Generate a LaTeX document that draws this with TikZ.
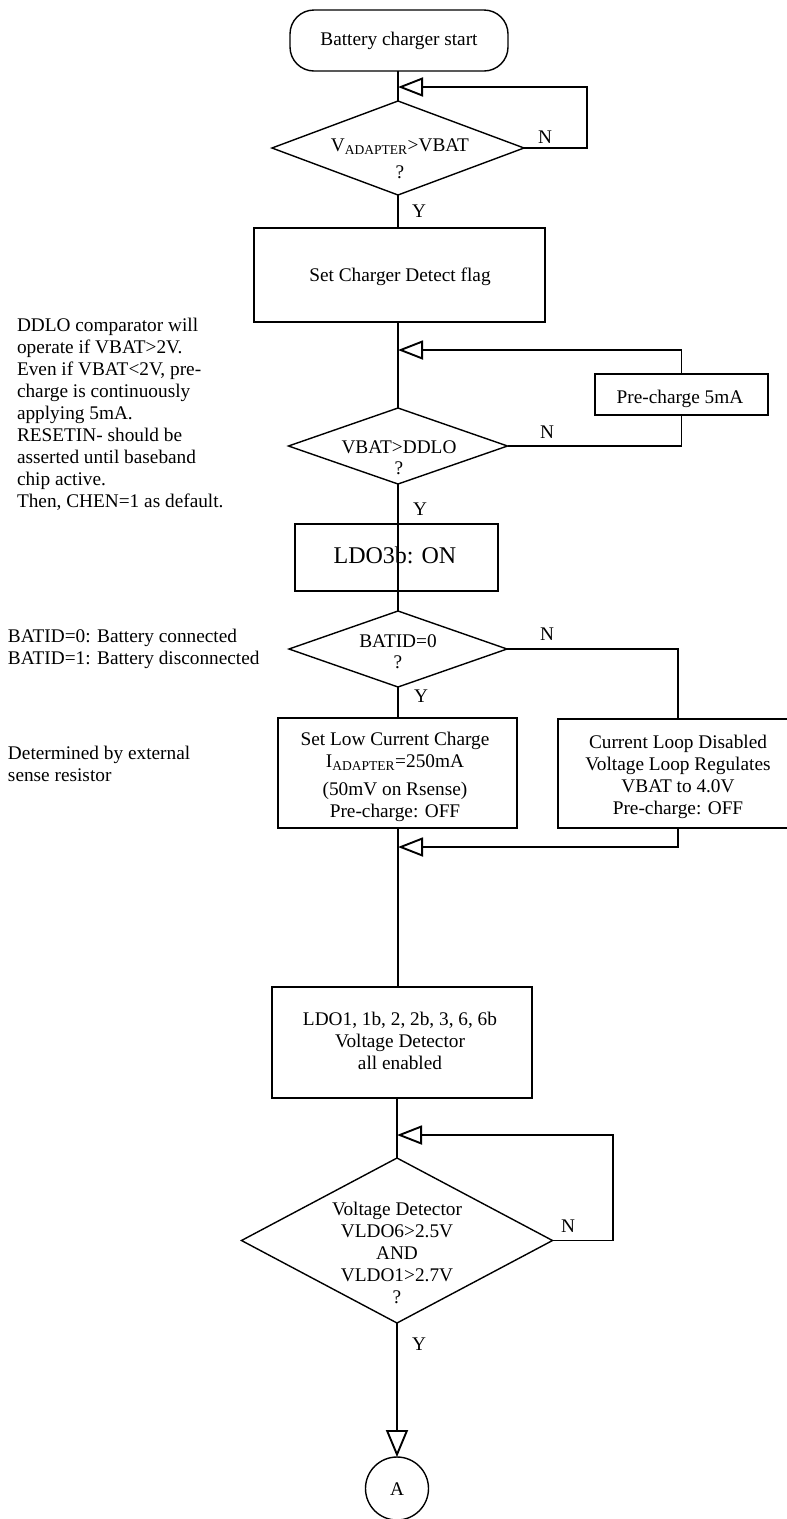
\documentclass[tikz,border=0pt]{standalone}
\usepackage{fontspec}
\setmainfont{Liberation Serif}
\usetikzlibrary{shapes.geometric,arrows.meta}
\newcommand{\mlc}[1]{\begin{tabular}[t]{@{}c@{}}#1\end{tabular}}
\newcommand{\mll}[1]{\begin{tabular}[t]{@{}l@{}}#1\end{tabular}}
\begin{document}
\begin{tikzpicture}[x=1pt,y=-1pt,
  every node/.style={font=\fontsize{19.3}{22}\selectfont, inner sep=0pt, outer sep=0pt},
  ln/.style={line width=1.4pt},
  box/.style={draw, rectangle, line width=1.4pt},
  tbox/.style={draw, rectangle, line width=2.3pt},
  dia/.style={draw, diamond, line width=1.4pt},
  txt/.style={anchor=base},
  note/.style={anchor=base west},
  yn/.style={anchor=base},
  back/.style={ln, -{Triangle[open, length=25pt, width=19pt, line width=1.9pt]}},
  down/.style={ln, -{Triangle[open, length=27pt, width=22pt, line width=1.9pt]}},
]
\useasboundingbox (0,0) rectangle (787,1519);
\clip (0,0) rectangle (787,1519);

% shapes
\node[box, rounded corners=24pt, minimum width=218pt, minimum height=61pt] (start) at (399,40.5) {};
\node[dia, minimum width=252pt, minimum height=94pt] (d1) at (398,148) {};
\node[box, minimum width=291pt, minimum height=94pt] (setcd) at (399.5,275) {};
\node[box, minimum width=173pt, minimum height=41pt] (pre) at (681.5,394.5) {};
\node[dia, minimum width=219pt, minimum height=76pt] (d2) at (398,446) {};
\node[tbox, minimum width=203pt, minimum height=67pt] (ldo3) at (396.5,557.5) {};
\node[dia, minimum width=218pt, minimum height=76pt] (d3) at (398,649) {};
\node[box, minimum width=239pt, minimum height=110pt] (low) at (397.5,773) {};
\node[box, minimum width=240pt, minimum height=109pt] (rbox) at (678,773.5) {};
\node[tbox, minimum width=260pt, minimum height=111pt] (ldo1) at (402,1042.5) {};
\node[dia, minimum width=311pt, minimum height=165pt] (d4) at (397,1240.5) {};
\node[draw, circle, ln, minimum size=63pt] (A) at (397,1488.5) {};

% texts
\node[txt] (tstart) at (399,45) {Battery charger start};
\node[txt] (td1) at (400,151.5) {\mlc{V\textsubscript{ADAPTER}>VBAT\\[4.5pt] ?}};
\node[txt] (tsetcd) at (400,281) {Set Charger Detect flag};
\node[txt] (tpre) at (680,403) {Pre-charge 5mA};
\node[txt] (td2) at (399,453) {\mlc{VBAT>DDLO\\[-1pt] ?}};
\node[txt, font=\fontsize{24}{27}\selectfont] (tldo3) at (395,563) {LDO3b: ON};
\node[txt] (td3) at (398,647) {\mlc{BATID=0\\[-1pt] ?}};
\node[txt] (tlow) at (395,745) {\mlc{Set Low Current Charge\\I\textsubscript{ADAPTER}=250mA\\[6pt](50mV on Rsense)\\Pre-charge: OFF}};
\node[txt] (trbox) at (678,748) {\mlc{Current Loop Disabled\\Voltage Loop Regulates\\VBAT to 4.0V\\Pre-charge: OFF}};
\node[txt] (tldo1) at (400,1025) {\mlc{LDO1, 1b, 2, 2b, 3, 6, 6b\\Voltage Detector\\all enabled}};
\node[txt] (td4) at (397,1215) {\mlc{Voltage Detector\\VLDO6>2.5V\\AND\\VLDO1>2.7V\\?}};
\node[txt] (tA) at (397,1495) {A};

% notes
\node[note] (nddlo) at (17,331) {\mll{DDLO comparator will\\operate if VBAT>2V.\\Even if VBAT<2V, pre-\\charge is continuously\\applying 5mA.\\RESETIN- should be\\asserted until baseband\\chip active.\\Then, CHEN=1 as default.}};
\node[note] (nbatid) at (8,642) {\mll{BATID=0: Battery connected\\BATID=1: Battery disconnected}};
\node[note] (ndet) at (8,759) {\mll{Determined by external\\sense resistor}};

% Y / N labels
\node[yn] (y1) at (419,217) {Y};
\node[yn] (n1) at (545,143) {N};
\node[yn] (n2) at (547,438) {N};
\node[yn] (y2) at (420,515) {Y};
\node[yn] (n3) at (547,640) {N};
\node[yn] (y3) at (421,702) {Y};
\node[yn] (n4) at (568,1232) {N};
\node[yn] (y4) at (419,1350) {Y};

% coordinates
\coordinate (r1) at (587,87);
\coordinate (j1) at (398,87);
\coordinate (j2) at (398,350);
\coordinate (j3) at (398,847);
\coordinate (r4) at (613,1135);
\coordinate (j4) at (397,1135);

% connectors
\draw[ln] (start.south -| d1.north) -- (d1.north);
\draw[back] (d1.east) -| (r1) -- (j1);
\draw[ln] (d1.south) -- (d1.south |- setcd.north);
\draw[ln] (setcd.south -| d2.north) -- (d2.north);
\draw[ln] (d2.east) -| (pre.south);
\draw[back] (pre.north) |- (j2);
\draw[ln] (d2.south) -- (d3.north);
\draw[ln] (d3.south) -- (d3.south |- low.north);
\draw[ln] (d3.east) -| (rbox.north);
\draw[back] (rbox.south) |- (j3);
\draw[ln] (low.south -| j3) -- (j3 |- ldo1.north);
\draw[ln] (ldo1.south -| d4.north) -- (d4.north);
\draw[back] (d4.east) -| (r4) -- (j4);
\draw[down] (d4.south) -- (A.north);
\end{tikzpicture}
\end{document}
